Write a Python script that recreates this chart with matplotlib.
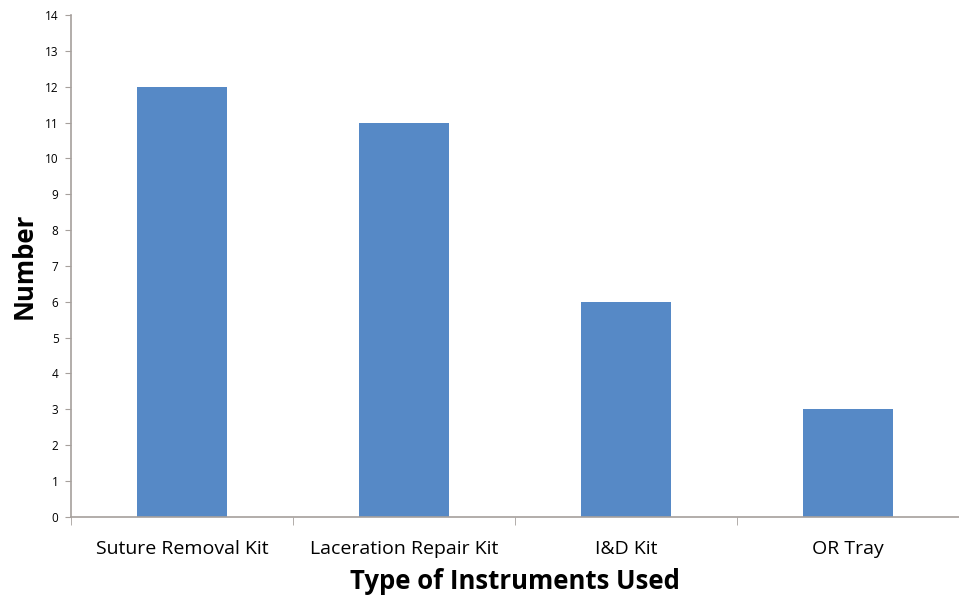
import matplotlib.pyplot as plt
import numpy as np

plt.rcParams['font.family'] = ['Open Sans', 'DejaVu Sans']

categories = ['Suture Removal Kit', 'Laceration Repair Kit', 'I&D Kit', 'OR Tray']
counts = [12, 11, 6, 3]
y_ticks = list(range(0, 15))

fig = plt.figure(figsize=(9.59, 6.01), dpi=100)
ax = fig.add_axes([0.074, 0.140, 0.926, 0.835])

x = np.arange(len(categories))
ax.bar(x, counts, width=0.405, color='#5689C6', zorder=2)

ax.set_xlim(-0.5, len(categories) - 0.5)
ax.set_ylim(0, 14)
ax.set_yticks(y_ticks)
ax.set_yticklabels([str(v) for v in y_ticks], fontsize=8.5)

# category labels centred under bars, tick marks between categories
ax.set_xticks(x)
ax.set_xticklabels(categories, fontsize=14)
ax.tick_params(axis='x', which='major', length=0, pad=17)
ax.set_xticks(np.arange(len(categories) + 1) - 0.5, minor=True)
ax.tick_params(axis='x', which='minor', length=6, color='#A6A09C', direction='out')
ax.tick_params(axis='y', length=4, color='#A6A09C', direction='out', pad=5)

for side in ['top', 'right']:
    ax.spines[side].set_visible(False)
for side in ['left', 'bottom']:
    ax.spines[side].set_color('#A6A09C')
    ax.spines[side].set_linewidth(1.2)

ax.set_xlabel('Type of Instruments Used', fontsize=18.5, fontweight='bold', labelpad=7)
ax.set_ylabel('Number', fontsize=18.5, fontweight='bold', labelpad=5)

fig.savefig('out.png', dpi=100)
